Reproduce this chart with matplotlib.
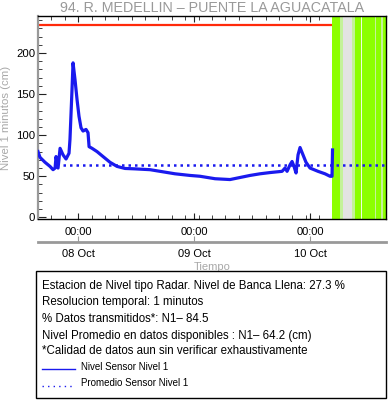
import matplotlib
matplotlib.use('Agg')
import matplotlib.pyplot as plt
import matplotlib.dates as mdates
import pandas as pd
import numpy as np
from matplotlib.patches import Rectangle
from matplotlib.lines import Line2D

plt.rcParams['font.family'] = ['Liberation Sans', 'DejaVu Sans']

# ---------------- data ----------------
times = [
    "2023-10-07 15:43", "2023-10-07 16:08", "2023-10-07 17:10", "2023-10-07 18:12",
    "2023-10-07 18:50", "2023-10-07 19:15", "2023-10-07 19:27", "2023-10-07 19:52",
    "2023-10-07 20:17", "2023-10-07 20:54", "2023-10-07 21:31", "2023-10-07 22:08",
    "2023-10-07 22:20", "2023-10-07 22:45", "2023-10-07 22:58", "2023-10-07 23:23",
    "2023-10-07 23:48", "2023-10-08 00:12", "2023-10-08 00:37", "2023-10-08 01:02",
    "2023-10-08 01:39", "2023-10-08 02:04", "2023-10-08 02:17", "2023-10-08 02:54",
    "2023-10-08 03:56", "2023-10-08 05:10", "2023-10-08 06:37", "2023-10-08 08:04",
    "2023-10-08 09:43", "2023-10-08 11:47", "2023-10-08 14:54", "2023-10-08 16:58",
    "2023-10-08 20:04", "2023-10-08 23:10", "2023-10-09 01:14", "2023-10-09 04:21",
    "2023-10-09 07:27", "2023-10-09 09:31", "2023-10-09 11:35", "2023-10-09 13:39",
    "2023-10-09 15:43", "2023-10-09 18:13", "2023-10-09 18:50", "2023-10-09 19:15",
    "2023-10-09 19:52", "2023-10-09 20:17", "2023-10-09 20:41", "2023-10-09 21:06",
    "2023-10-09 21:31", "2023-10-09 21:56", "2023-10-09 22:33", "2023-10-09 23:10",
    "2023-10-10 00:00", "2023-10-10 01:39", "2023-10-10 03:06", "2023-10-10 04:08",
    "2023-10-10 04:33", "2023-10-10 04:39",
]
nivel = [
    80, 73, 67, 62, 58, 60, 74, 60, 84, 76, 71, 78,
    95, 155, 188, 167, 143, 123, 109, 105, 107, 103, 86, 84,
    80, 74, 67, 62, 59.5, 59, 58, 56, 53, 51, 50, 47,
    46, 48.5, 51, 53, 54.5, 56, 60, 56, 64, 68, 62, 54,
    76, 85, 76, 67, 60, 56, 53, 50, 50, 82,
]
promedio = 64.2
promedio_inicio = "2023-10-07 20:54"
banca_llena = 234

# missing-data bands (start, end, kind)
band_starts = ["2023-10-10 04:36", "2023-10-10 06:13", "2023-10-10 06:46", "2023-10-10 08:46",
               "2023-10-10 09:19", "2023-10-10 10:34", "2023-10-10 10:45", "2023-10-10 13:26",
               "2023-10-10 13:39", "2023-10-10 14:41", "2023-10-10 15:06"]
band_ends = ["2023-10-10 06:13", "2023-10-10 06:46", "2023-10-10 08:46", "2023-10-10 09:19",
             "2023-10-10 10:34", "2023-10-10 10:45", "2023-10-10 13:26", "2023-10-10 13:39",
             "2023-10-10 14:41", "2023-10-10 15:06", "2023-10-10 15:43"]
band_kind = ["g", "l", "x", "l", "g", "w", "g", "l", "g", "l", "g"]

x_start = "2023-10-07 15:43"
x_end = "2023-10-10 15:43"
day_ticks = ["2023-10-08", "2023-10-09", "2023-10-10"]
day_labels = ["08 Oct", "09 Oct", "10 Oct"]
hour_labels = ["00:00", "00:00", "00:00"]
y_ticks = [0, 50, 100, 150, 200]

legend_lines = [
    "Estacion de Nivel tipo Radar. Nivel de Banca Llena: 27.3 %",
    "Resolucion temporal: 1 minutos",
    "% Datos transmitidos*: N1\u2013 84.5",
    "Nivel Promedio en datos disponibles : N1\u2013 64.2 (cm)",
    "*Calidad de datos aun sin verificar exhaustivamente",
]

# ---------------- figure ----------------
W, H = 388, 404
fig = plt.figure(figsize=(W / 100, H / 100), dpi=100)


def px(x0, y0, x1, y1):
    return [x0 / W, 1 - y1 / H, (x1 - x0) / W, (y1 - y0) / H]


ax = fig.add_axes(px(38, 16, 386, 219))
t = pd.to_datetime(times)
x0 = mdates.date2num(pd.Timestamp(x_start))
x1 = mdates.date2num(pd.Timestamp(x_end))

colors = {"g": "#8cff00", "l": "#c4f29a", "x": "#e3e3e3", "w": "#eefde0"}
for s, e, k in zip(band_starts, band_ends, band_kind):
    ax.axvspan(pd.Timestamp(s), pd.Timestamp(e), color=colors[k], lw=0, zorder=2)

ax.axhline(banca_llena, color="#ff2a0a", lw=1.6, zorder=1)
ax.plot([pd.Timestamp(promedio_inicio), pd.Timestamp(x_end)], [promedio, promedio],
        color="#1a1aee", lw=1.8, linestyle=(0, (1, 1.6)), zorder=3)
ax.plot(t, nivel, color="#1a1aee", lw=2.3, zorder=4)

ax.set_xlim(x0, x1)
ax.set_ylim(-2, 245)

ax.set_xticks([mdates.date2num(pd.Timestamp(d)) for d in day_ticks])
ax.set_xticklabels(hour_labels, fontsize=8)
ax.set_xticks(np.linspace(x0, x1, 27), minor=True)
ax.set_yticks(y_ticks)
ax.set_yticklabels([str(v) for v in y_ticks], fontsize=8.2)
ax.set_yticks(np.arange(0, 241, 10), minor=True)
ax.tick_params(axis="both", which="both", direction="in", top=True, right=True, color="#222222")
ax.tick_params(axis="x", which="major", length=4, pad=6)
ax.tick_params(axis="x", which="minor", length=3)
ax.tick_params(axis="y", which="major", length=6, pad=2)
ax.tick_params(axis="y", which="minor", length=3)
for side in ["left", "right", "top", "bottom"]:
    ax.spines[side].set_linewidth(1.0)
ax.spines["left"].set_color("#999999")
ax.spines["left"].set_linewidth(1.6)

ax.set_ylabel("Nivel 1 minutos (cm)", color="#a8a8a8", fontsize=8.2, labelpad=4)
ax.set_title("94. R. MEDELLIN \u2013 PUENTE LA AGUACATALA", color="#999999", fontsize=10.3, pad=3)

# secondary date axis
ax2 = fig.add_axes(px(38, 240, 386, 242))
ax2.set_xlim(x0, x1)
ax2.patch.set_visible(False)
for side in ["left", "right", "top"]:
    ax2.spines[side].set_visible(False)
ax2.spines["bottom"].set_color("#999999")
ax2.spines["bottom"].set_linewidth(2)
ax2.set_yticks([])
ax2.set_xticks([mdates.date2num(pd.Timestamp(d)) for d in day_ticks])
ax2.set_xticklabels(day_labels, fontsize=8)
ax2.tick_params(axis="x", direction="in", length=4, color="#999999", pad=5)
ax2.set_xlabel("Tiempo", color="#a8a8a8", fontsize=8, labelpad=2)

# legend box
fig.add_artist(Rectangle((36 / W, 1 - 398 / H), 350 / W, 127 / H, transform=fig.transFigure,
                         fill=False, lw=1, ec="black"))
ys = [286, 302.5, 319, 335.5, 351.5]
for y, s in zip(ys, legend_lines):
    fig.text(42 / W, 1 - y / H, s, fontsize=8.3, va="center", ha="left")

fig.add_artist(Line2D([42 / W, 75 / W], [1 - 369 / H] * 2, transform=fig.transFigure,
                      color="#1a1aee", lw=1))
fig.text(81 / W, 1 - 366.5 / H, "Nivel Sensor Nivel 1", fontsize=7, va="center")
fig.add_artist(Line2D([42 / W, 75 / W], [1 - 386 / H] * 2, transform=fig.transFigure,
                      color="#1a1aee", lw=1, linestyle=(0, (1, 3))))
fig.text(81 / W, 1 - 383 / H, "Promedio Sensor Nivel 1", fontsize=7, va="center")

fig.savefig("out.png", dpi=100)
